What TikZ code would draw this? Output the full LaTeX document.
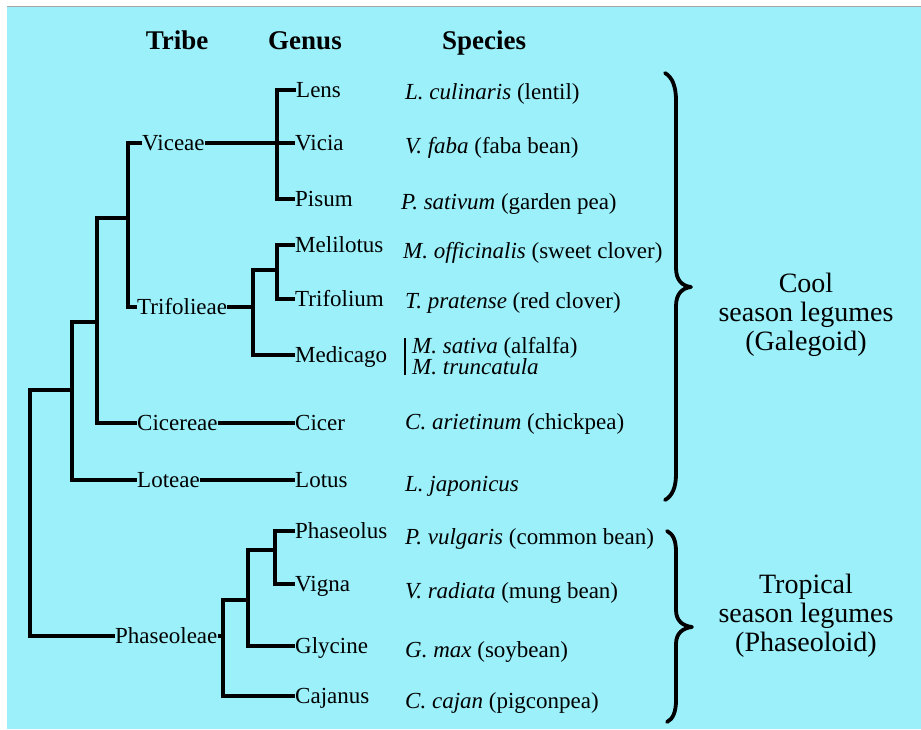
\documentclass[tikz,border=0pt]{standalone}
\usepackage{fontspec}
\setmainfont{Liberation Serif}
\definecolor{bg}{RGB}{155,240,250}
\begin{document}
\begin{tikzpicture}[x=1pt,y=-1pt,
  lbl/.style={anchor=west, inner sep=0pt, text height=15pt, text depth=0pt, font=\fontsize{23}{25}\selectfont},
  hdr/.style={anchor=base, inner sep=0pt, font=\fontsize{27}{30}\selectfont\bfseries},
  grp/.style={align=center, inner sep=0pt, font=\fontsize{28}{29}\selectfont},
  tree/.style={line width=3.3pt, line cap=butt, line join=miter},
  bracestyle/.style={line width=3.8pt, line cap=round, line join=round}]
\useasboundingbox (0,0) rectangle (921,729);
\fill[bg] (7,7) rectangle (921,729);
\draw[gray!70, line width=1.2pt] (7,6.4) -- (921,6.4);

% headers
\node[hdr] (hTribe) at (177,49) {Tribe};
\node[hdr] (hGenus) at (305,49) {Genus};
\node[hdr] (hSpecies) at (484,49) {Species};

% tribes
\node[lbl] (Viceae) at (142,143) {Viceae};
\node[lbl] (Trifolieae) at (137,307) {Trifolieae};
\node[lbl] (Cicereae) at (137,423) {Cicereae};
\node[lbl] (Loteae) at (137,480) {Loteae};
\node[lbl] (Phaseoleae) at (115,636) {Phaseoleae};

% genera
\node[lbl] (Lens) at (296,90) {Lens};
\node[lbl] (Vicia) at (295,143) {Vicia};
\node[lbl] (Pisum) at (295,199) {Pisum};
\node[lbl] (Melilotus) at (295,245) {Melilotus};
\node[lbl] (Trifolium) at (295,299) {Trifolium};
\node[lbl] (Medicago) at (295,355) {Medicago};
\node[lbl] (Cicer) at (295,423) {Cicer};
\node[lbl] (Lotus) at (295,480) {Lotus};
\node[lbl] (Phaseolus) at (295,531) {Phaseolus};
\node[lbl] (Vigna) at (295,584) {Vigna};
\node[lbl] (Glycine) at (295,646) {Glycine};
\node[lbl] (Cajanus) at (295,696) {Cajanus};

% species
\node[lbl] (sLc) at (405,92) {\textit{L. culinaris} (lentil)};
\node[lbl] (sVf) at (405,146) {\textit{V. faba} (faba bean)};
\node[lbl] (sPs) at (401,202) {\textit{P. sativum} (garden pea)};
\node[lbl] (sMo) at (403,251) {\textit{M. officinalis} (sweet clover)};
\node[lbl] (sTp) at (405,301) {\textit{T. pratense} (red clover)};
\node[lbl] (sMs) at (412,346) {\textit{M. sativa} (alfalfa)};
\node[lbl] (sMt) at (412,367) {\textit{M. truncatula}};
\node[lbl] (sCa) at (405,422) {\textit{C. arietinum} (chickpea)};
\node[lbl] (sLj) at (405,484) {\textit{L. japonicus}};
\node[lbl] (sPv) at (405,537) {\textit{P. vulgaris} (common bean)};
\node[lbl] (sVr) at (405,591) {\textit{V. radiata} (mung bean)};
\node[lbl] (sGm) at (405,650) {\textit{G. max} (soybean)};
\node[lbl] (sCc) at (405,701) {\textit{C. cajan} (pigconpea)};
\coordinate (barT) at (405,338);
\coordinate (barB) at (405,375);
\draw[line width=2pt] (barT) -- (barB);

% junctions
\coordinate (jV) at (277,143);
\coordinate (jT) at (128,218);
\coordinate (jTrTop) at (253,270);
\coordinate (jTr) at (253,307);
\coordinate (jMT) at (277,270);
\coordinate (j97) at (97,322);
\coordinate (j72) at (72,390);
\coordinate (j30) at (30,636);
\coordinate (jP) at (223,636);
\coordinate (jPtop) at (223,600);
\coordinate (jG) at (248,600);
\coordinate (jGtop) at (248,550);
\coordinate (jPV) at (275,550);

% tree
\draw[tree] (Lens.west) -| (jV) |- (Pisum.west);
\draw[tree] (Viceae.east) -- (Vicia.west);
\draw[tree] (Viceae.west) -| (jT) |- (Trifolieae.west);
\draw[tree] (Trifolieae.east) -- (jTr);
\draw[tree] (Medicago.west) -| (jTrTop) -- (jMT);
\draw[tree] (Melilotus.west) -| (jMT) |- (Trifolium.west);
\draw[tree] (jT) -| (j97) |- (Cicereae.west);
\draw[tree] (Cicereae.east) -- (Cicer.west);
\draw[tree] (j97) -| (j72) |- (Loteae.west);
\draw[tree] (Loteae.east) -- (Lotus.west);
\draw[tree] (j72) -| (j30) -- (Phaseoleae.west);
\draw[tree] (Phaseoleae.east) -- (jP);
\draw[tree] (Cajanus.west) -| (jPtop) -- (jG);
\draw[tree] (Glycine.west) -| (jGtop) -- (jPV);
\draw[tree] (Phaseolus.west) -| (jPV) |- (Vigna.west);

% braces
\coordinate (b1top) at (665,73);
\coordinate (b1tip) at (691,287);
\coordinate (b1bot) at (665,500);
\draw[bracestyle] (b1top) .. controls (672,77) and (676,86) .. (676,100)
  -- (676,268) .. controls (676,280) and (682,286) .. (b1tip)
  .. controls (682,288) and (676,294) .. (676,306)
  -- (676,474) .. controls (676,488) and (672,496) .. (b1bot);
\coordinate (b2top) at (667,531);
\coordinate (b2tip) at (692,627);
\coordinate (b2bot) at (667,722);
\draw[bracestyle] (b2top) .. controls (673,534) and (676,540) .. (676,552)
  -- (676,610) .. controls (676,621) and (683,626) .. (b2tip)
  .. controls (683,628) and (676,633) .. (676,644)
  -- (676,700) .. controls (676,712) and (673,719) .. (b2bot);

\node[grp] (cool) at (806,315) {Cool\\season legumes\\(Galegoid)};
\node[grp] (trop) at (806,616) {Tropical\\season legumes\\(Phaseoloid)};
\end{tikzpicture}
\end{document}
